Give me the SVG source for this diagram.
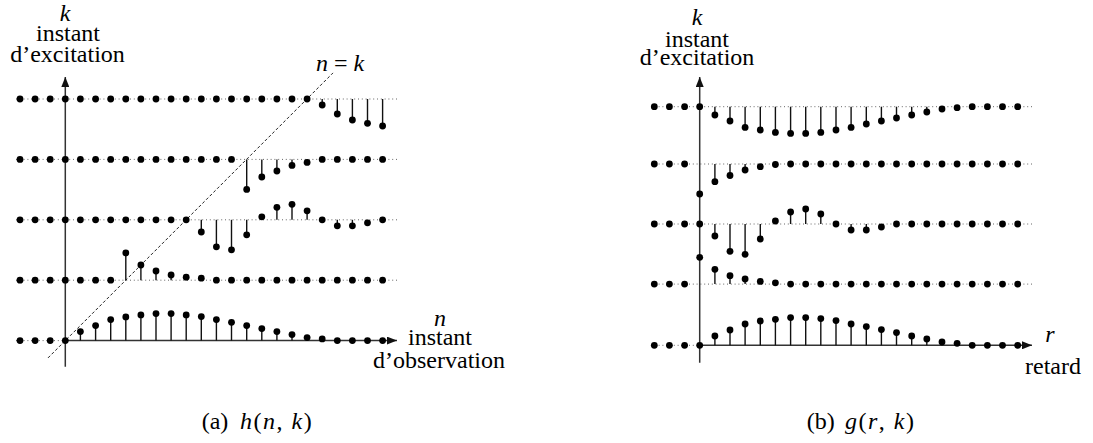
<svg xmlns="http://www.w3.org/2000/svg" width="1093" height="443" viewBox="0 0 1093 443">
<style>
.bg{fill:#fff}
.base{stroke:#666;stroke-width:1;stroke-dasharray:1 2.8;fill:none}
.axis{stroke:#333;stroke-width:1.5;fill:none}
.stem{stroke:#111;stroke-width:1.4}
.diag{stroke:#222;stroke-width:1;stroke-dasharray:3 2.2;fill:none}
.c{text-anchor:middle}
</style>
<defs>
<marker id="arr" viewBox="0 0 10 8" refX="10" refY="4" markerWidth="10" markerHeight="8" markerUnits="userSpaceOnUse" orient="auto">
<path d="M0,0 L10,4 L0,8 Z" fill="#111"/>
</marker>
<circle id="p" r="3.4" fill="#000"/>
</defs>
<rect class="bg" x="0" y="0" width="1093" height="443"/>

<g id="left-panel">
<g id="left-baselines">
<line class="base" x1="16" y1="99" x2="398" y2="99"/>
<line class="base" x1="16" y1="159.4" x2="398" y2="159.4"/>
<line class="base" x1="16" y1="219.8" x2="398" y2="219.8"/>
<line class="base" x1="16" y1="280.2" x2="398" y2="280.2"/>
<line class="base" x1="16" y1="340.6" x2="66" y2="340.6"/>
</g>
<g id="left-axes">
<line class="axis" x1="65.3" y1="366.7" x2="65.3" y2="77" marker-end="url(#arr)"/>
<line class="axis" x1="65.3" y1="340.6" x2="397" y2="340.6" marker-end="url(#arr)"/>
<line class="diag" x1="48" y1="357.9" x2="333" y2="72.9"/>
</g>
<g id="left-stems">
<line class="stem" x1="322.2" y1="99" x2="322.2" y2="105"/>
<line class="stem" x1="337.3" y1="99" x2="337.3" y2="114"/>
<line class="stem" x1="352.4" y1="99" x2="352.4" y2="120"/>
<line class="stem" x1="367.5" y1="99" x2="367.5" y2="123.3"/>
<line class="stem" x1="382.6" y1="99" x2="382.6" y2="126"/>
<line class="stem" x1="246.7" y1="159.4" x2="246.7" y2="189.4"/>
<line class="stem" x1="261.8" y1="159.4" x2="261.8" y2="177"/>
<line class="stem" x1="276.9" y1="159.4" x2="276.9" y2="171"/>
<line class="stem" x1="292.0" y1="159.4" x2="292.0" y2="165.4"/>
<line class="stem" x1="307.1" y1="159.4" x2="307.1" y2="162.4"/>
<line class="stem" x1="201.3" y1="219.8" x2="201.3" y2="232"/>
<line class="stem" x1="216.4" y1="219.8" x2="216.4" y2="246.8"/>
<line class="stem" x1="231.5" y1="219.8" x2="231.5" y2="249.8"/>
<line class="stem" x1="246.7" y1="219.8" x2="246.7" y2="234.8"/>
<line class="stem" x1="261.8" y1="219.8" x2="261.8" y2="216.8"/>
<line class="stem" x1="276.9" y1="219.8" x2="276.9" y2="207.3"/>
<line class="stem" x1="292.0" y1="219.8" x2="292.0" y2="204.3"/>
<line class="stem" x1="307.1" y1="219.8" x2="307.1" y2="210.8"/>
<line class="stem" x1="337.3" y1="219.8" x2="337.3" y2="225.8"/>
<line class="stem" x1="352.4" y1="219.8" x2="352.4" y2="225.8"/>
<line class="stem" x1="367.5" y1="219.8" x2="367.5" y2="222.8"/>
<line class="stem" x1="125.8" y1="280.2" x2="125.8" y2="253"/>
<line class="stem" x1="140.9" y1="280.2" x2="140.9" y2="265"/>
<line class="stem" x1="156.0" y1="280.2" x2="156.0" y2="271"/>
<line class="stem" x1="171.1" y1="280.2" x2="171.1" y2="275"/>
<line class="stem" x1="186.2" y1="280.2" x2="186.2" y2="277.2"/>
<line class="stem" x1="201.3" y1="280.2" x2="201.3" y2="278.2"/>
<line class="stem" x1="80.4" y1="340.6" x2="80.4" y2="331.6"/>
<line class="stem" x1="95.6" y1="340.6" x2="95.6" y2="325.6"/>
<line class="stem" x1="110.7" y1="340.6" x2="110.7" y2="319.6"/>
<line class="stem" x1="125.8" y1="340.6" x2="125.8" y2="316.9"/>
<line class="stem" x1="140.9" y1="340.6" x2="140.9" y2="314.9"/>
<line class="stem" x1="156.0" y1="340.6" x2="156.0" y2="313.6"/>
<line class="stem" x1="171.1" y1="340.6" x2="171.1" y2="313.6"/>
<line class="stem" x1="186.2" y1="340.6" x2="186.2" y2="314.9"/>
<line class="stem" x1="201.3" y1="340.6" x2="201.3" y2="316.6"/>
<line class="stem" x1="216.4" y1="340.6" x2="216.4" y2="319.6"/>
<line class="stem" x1="231.5" y1="340.6" x2="231.5" y2="322.3"/>
<line class="stem" x1="246.7" y1="340.6" x2="246.7" y2="325.6"/>
<line class="stem" x1="261.8" y1="340.6" x2="261.8" y2="328.6"/>
<line class="stem" x1="276.9" y1="340.6" x2="276.9" y2="331.6"/>
<line class="stem" x1="292.0" y1="340.6" x2="292.0" y2="334.6"/>
<line class="stem" x1="307.1" y1="340.6" x2="307.1" y2="337.6"/>
<line class="stem" x1="322.2" y1="340.6" x2="322.2" y2="338.9"/>
</g>
<g id="left-dots">
<use href="#p" x="20.0" y="99"/><use href="#p" x="35.1" y="99"/><use href="#p" x="50.2" y="99"/><use href="#p" x="65.3" y="99"/><use href="#p" x="80.4" y="99"/><use href="#p" x="95.6" y="99"/><use href="#p" x="110.7" y="99"/><use href="#p" x="125.8" y="99"/><use href="#p" x="140.9" y="99"/><use href="#p" x="156.0" y="99"/><use href="#p" x="171.1" y="99"/><use href="#p" x="186.2" y="99"/><use href="#p" x="201.3" y="99"/><use href="#p" x="216.4" y="99"/><use href="#p" x="231.5" y="99"/><use href="#p" x="246.7" y="99"/><use href="#p" x="261.8" y="99"/><use href="#p" x="276.9" y="99"/><use href="#p" x="292.0" y="99"/><use href="#p" x="307.1" y="99"/>
<use href="#p" x="322.2" y="105"/><use href="#p" x="337.3" y="114"/><use href="#p" x="352.4" y="120"/><use href="#p" x="367.5" y="123.3"/><use href="#p" x="382.6" y="126"/>
<use href="#p" x="20.0" y="159.4"/><use href="#p" x="35.1" y="159.4"/><use href="#p" x="50.2" y="159.4"/><use href="#p" x="65.3" y="159.4"/><use href="#p" x="80.4" y="159.4"/><use href="#p" x="95.6" y="159.4"/><use href="#p" x="110.7" y="159.4"/><use href="#p" x="125.8" y="159.4"/><use href="#p" x="140.9" y="159.4"/><use href="#p" x="156.0" y="159.4"/><use href="#p" x="171.1" y="159.4"/><use href="#p" x="186.2" y="159.4"/><use href="#p" x="201.3" y="159.4"/><use href="#p" x="216.4" y="159.4"/><use href="#p" x="231.5" y="159.4"/>
<use href="#p" x="246.7" y="189.4"/><use href="#p" x="261.8" y="177"/><use href="#p" x="276.9" y="171"/><use href="#p" x="292.0" y="165.4"/><use href="#p" x="307.1" y="162.4"/>
<use href="#p" x="322.2" y="159.4"/><use href="#p" x="337.3" y="159.4"/><use href="#p" x="352.4" y="159.4"/><use href="#p" x="367.5" y="159.4"/><use href="#p" x="382.6" y="159.4"/>
<use href="#p" x="20.0" y="219.8"/><use href="#p" x="35.1" y="219.8"/><use href="#p" x="50.2" y="219.8"/><use href="#p" x="65.3" y="219.8"/><use href="#p" x="80.4" y="219.8"/><use href="#p" x="95.6" y="219.8"/><use href="#p" x="110.7" y="219.8"/><use href="#p" x="125.8" y="219.8"/><use href="#p" x="140.9" y="219.8"/><use href="#p" x="156.0" y="219.8"/><use href="#p" x="171.1" y="219.8"/><use href="#p" x="186.2" y="219.8"/>
<use href="#p" x="201.3" y="232"/><use href="#p" x="216.4" y="246.8"/><use href="#p" x="231.5" y="249.8"/><use href="#p" x="246.7" y="234.8"/><use href="#p" x="261.8" y="216.8"/><use href="#p" x="276.9" y="207.3"/><use href="#p" x="292.0" y="204.3"/><use href="#p" x="307.1" y="210.8"/><use href="#p" x="322.2" y="219.8"/><use href="#p" x="337.3" y="225.8"/><use href="#p" x="352.4" y="225.8"/><use href="#p" x="367.5" y="222.8"/><use href="#p" x="382.6" y="219.8"/>
<use href="#p" x="20.0" y="280.2"/><use href="#p" x="35.1" y="280.2"/><use href="#p" x="50.2" y="280.2"/><use href="#p" x="65.3" y="280.2"/><use href="#p" x="80.4" y="280.2"/><use href="#p" x="95.6" y="280.2"/><use href="#p" x="110.7" y="280.2"/>
<use href="#p" x="125.8" y="253"/><use href="#p" x="140.9" y="265"/><use href="#p" x="156.0" y="271"/><use href="#p" x="171.1" y="275"/><use href="#p" x="186.2" y="277.2"/><use href="#p" x="201.3" y="278.2"/>
<use href="#p" x="216.4" y="280.2"/><use href="#p" x="231.5" y="280.2"/><use href="#p" x="246.7" y="280.2"/><use href="#p" x="261.8" y="280.2"/><use href="#p" x="276.9" y="280.2"/><use href="#p" x="292.0" y="280.2"/><use href="#p" x="307.1" y="280.2"/><use href="#p" x="322.2" y="280.2"/><use href="#p" x="337.3" y="280.2"/><use href="#p" x="352.4" y="280.2"/><use href="#p" x="367.5" y="280.2"/><use href="#p" x="382.6" y="280.2"/>
<use href="#p" x="20.0" y="340.6"/><use href="#p" x="35.1" y="340.6"/><use href="#p" x="50.2" y="340.6"/><use href="#p" x="65.3" y="340.6"/>
<use href="#p" x="80.4" y="331.6"/><use href="#p" x="95.6" y="325.6"/><use href="#p" x="110.7" y="319.6"/><use href="#p" x="125.8" y="316.9"/><use href="#p" x="140.9" y="314.9"/><use href="#p" x="156.0" y="313.6"/><use href="#p" x="171.1" y="313.6"/><use href="#p" x="186.2" y="314.9"/><use href="#p" x="201.3" y="316.6"/><use href="#p" x="216.4" y="319.6"/><use href="#p" x="231.5" y="322.3"/><use href="#p" x="246.7" y="325.6"/><use href="#p" x="261.8" y="328.6"/><use href="#p" x="276.9" y="331.6"/><use href="#p" x="292.0" y="334.6"/><use href="#p" x="307.1" y="337.6"/><use href="#p" x="322.2" y="338.9"/>
<use href="#p" x="337.3" y="340.6"/><use href="#p" x="352.4" y="340.6"/><use href="#p" x="367.5" y="340.6"/><use href="#p" x="382.6" y="340.6"/>
</g>
<g id="left-labels">
<text class="c" style="font-family:'Liberation Serif',serif;font-size:24px;font-style:italic" x="65" y="21">k</text>
<text class="c" style="font-family:'Liberation Serif',serif;font-size:24px" x="68" y="41">instant</text>
<text class="c" style="font-family:'Liberation Serif',serif;font-size:24px" x="67.5" y="62">d’excitation</text>
<text class="c" style="font-family:'Liberation Serif',serif;font-size:24px" x="340" y="71"><tspan style="font-style:italic">n</tspan> = <tspan style="font-style:italic">k</tspan></text>
<text class="c" style="font-family:'Liberation Serif',serif;font-size:24px;font-style:italic" x="440" y="326">n</text>
<text class="c" style="font-family:'Liberation Serif',serif;font-size:24px" x="440" y="345">instant</text>
<text class="c" style="font-family:'Liberation Serif',serif;font-size:24px" x="439" y="368">d’observation</text>
<text style="font-family:'Liberation Serif',serif;font-size:24px" x="201.7" y="429">(a)</text>
<text style="font-family:'Liberation Serif',serif;font-size:24px;letter-spacing:1.5px" x="240" y="429"><tspan style="font-style:italic">h</tspan>(<tspan style="font-style:italic">n</tspan>, <tspan style="font-style:italic">k</tspan>)</text>
</g>
</g>

<g id="right-panel">
<g id="right-baselines">
<line class="base" x1="651" y1="106.7" x2="1032" y2="106.7"/>
<line class="base" x1="651" y1="164" x2="1032" y2="164"/>
<line class="base" x1="651" y1="224" x2="1032" y2="224"/>
<line class="base" x1="651" y1="284.1" x2="1032" y2="284.1"/>
<line class="base" x1="651" y1="345.3" x2="700" y2="345.3"/>
</g>
<g id="right-axes">
<line class="axis" x1="699.7" y1="362.7" x2="699.7" y2="77" marker-end="url(#arr)"/>
<line class="axis" x1="699.7" y1="345.3" x2="1032" y2="345.3" marker-end="url(#arr)"/>
</g>
<g id="right-stems">
<line class="stem" x1="714.9" y1="106.7" x2="714.9" y2="115"/>
<line class="stem" x1="730.0" y1="106.7" x2="730.0" y2="121"/>
<line class="stem" x1="745.1" y1="106.7" x2="745.1" y2="127.4"/>
<line class="stem" x1="760.3" y1="106.7" x2="760.3" y2="130"/>
<line class="stem" x1="775.4" y1="106.7" x2="775.4" y2="132.4"/>
<line class="stem" x1="790.6" y1="106.7" x2="790.6" y2="133.4"/>
<line class="stem" x1="805.7" y1="106.7" x2="805.7" y2="133.4"/>
<line class="stem" x1="820.8" y1="106.7" x2="820.8" y2="132.4"/>
<line class="stem" x1="836.0" y1="106.7" x2="836.0" y2="130"/>
<line class="stem" x1="851.1" y1="106.7" x2="851.1" y2="127.4"/>
<line class="stem" x1="866.3" y1="106.7" x2="866.3" y2="124"/>
<line class="stem" x1="881.4" y1="106.7" x2="881.4" y2="121"/>
<line class="stem" x1="896.5" y1="106.7" x2="896.5" y2="118"/>
<line class="stem" x1="911.7" y1="106.7" x2="911.7" y2="115"/>
<line class="stem" x1="926.8" y1="106.7" x2="926.8" y2="112"/>
<line class="stem" x1="942.0" y1="106.7" x2="942.0" y2="109"/>
<line class="stem" x1="714.9" y1="164" x2="714.9" y2="181.7"/>
<line class="stem" x1="730.0" y1="164" x2="730.0" y2="175.5"/>
<line class="stem" x1="745.1" y1="164" x2="745.1" y2="170"/>
<line class="stem" x1="760.3" y1="164" x2="760.3" y2="166.7"/>
<line class="stem" x1="714.9" y1="224" x2="714.9" y2="236"/>
<line class="stem" x1="730.0" y1="224" x2="730.0" y2="251.3"/>
<line class="stem" x1="745.1" y1="224" x2="745.1" y2="254.3"/>
<line class="stem" x1="760.3" y1="224" x2="760.3" y2="239"/>
<line class="stem" x1="775.4" y1="224" x2="775.4" y2="221"/>
<line class="stem" x1="790.6" y1="224" x2="790.6" y2="212"/>
<line class="stem" x1="805.7" y1="224" x2="805.7" y2="209"/>
<line class="stem" x1="820.8" y1="224" x2="820.8" y2="214"/>
<line class="stem" x1="851.1" y1="224" x2="851.1" y2="230"/>
<line class="stem" x1="866.3" y1="224" x2="866.3" y2="230"/>
<line class="stem" x1="881.4" y1="224" x2="881.4" y2="227"/>
<line class="stem" x1="714.9" y1="284.1" x2="714.9" y2="269.3"/>
<line class="stem" x1="730.0" y1="284.1" x2="730.0" y2="275.7"/>
<line class="stem" x1="745.1" y1="284.1" x2="745.1" y2="279"/>
<line class="stem" x1="760.3" y1="284.1" x2="760.3" y2="281.4"/>
<line class="stem" x1="714.9" y1="345.3" x2="714.9" y2="336"/>
<line class="stem" x1="730.0" y1="345.3" x2="730.0" y2="330"/>
<line class="stem" x1="745.1" y1="345.3" x2="745.1" y2="324"/>
<line class="stem" x1="760.3" y1="345.3" x2="760.3" y2="321"/>
<line class="stem" x1="775.4" y1="345.3" x2="775.4" y2="319.3"/>
<line class="stem" x1="790.6" y1="345.3" x2="790.6" y2="317.6"/>
<line class="stem" x1="805.7" y1="345.3" x2="805.7" y2="317.6"/>
<line class="stem" x1="820.8" y1="345.3" x2="820.8" y2="318.6"/>
<line class="stem" x1="836.0" y1="345.3" x2="836.0" y2="320.6"/>
<line class="stem" x1="851.1" y1="345.3" x2="851.1" y2="324"/>
<line class="stem" x1="866.3" y1="345.3" x2="866.3" y2="326.6"/>
<line class="stem" x1="881.4" y1="345.3" x2="881.4" y2="329.6"/>
<line class="stem" x1="896.5" y1="345.3" x2="896.5" y2="332.6"/>
<line class="stem" x1="911.7" y1="345.3" x2="911.7" y2="336"/>
<line class="stem" x1="926.8" y1="345.3" x2="926.8" y2="339"/>
<line class="stem" x1="942.0" y1="345.3" x2="942.0" y2="342"/>
<line class="stem" x1="957.1" y1="345.3" x2="957.1" y2="343.3"/>
</g>
<g id="right-dots">
<use href="#p" x="654.3" y="106.7"/><use href="#p" x="669.4" y="106.7"/><use href="#p" x="684.6" y="106.7"/><use href="#p" x="699.7" y="106.7"/>
<use href="#p" x="714.9" y="115"/><use href="#p" x="730.0" y="121"/><use href="#p" x="745.1" y="127.4"/><use href="#p" x="760.3" y="130"/><use href="#p" x="775.4" y="132.4"/><use href="#p" x="790.6" y="133.4"/><use href="#p" x="805.7" y="133.4"/><use href="#p" x="820.8" y="132.4"/><use href="#p" x="836.0" y="130"/><use href="#p" x="851.1" y="127.4"/><use href="#p" x="866.3" y="124"/><use href="#p" x="881.4" y="121"/><use href="#p" x="896.5" y="118"/><use href="#p" x="911.7" y="115"/><use href="#p" x="926.8" y="112"/><use href="#p" x="942.0" y="109"/><use href="#p" x="957.1" y="107.7"/>
<use href="#p" x="972.2" y="106.7"/><use href="#p" x="987.4" y="106.7"/><use href="#p" x="1002.5" y="106.7"/><use href="#p" x="1017.7" y="106.7"/>
<use href="#p" x="654.3" y="164"/><use href="#p" x="669.4" y="164"/><use href="#p" x="684.6" y="164"/>
<use href="#p" x="699.7" y="194"/><use href="#p" x="714.9" y="181.7"/><use href="#p" x="730.0" y="175.5"/><use href="#p" x="745.1" y="170"/><use href="#p" x="760.3" y="166.7"/><use href="#p" x="775.4" y="164.5"/>
<use href="#p" x="790.6" y="164"/><use href="#p" x="805.7" y="164"/><use href="#p" x="820.8" y="164"/><use href="#p" x="836.0" y="164"/><use href="#p" x="851.1" y="164"/><use href="#p" x="866.3" y="164"/><use href="#p" x="881.4" y="164"/><use href="#p" x="896.5" y="164"/><use href="#p" x="911.7" y="164"/><use href="#p" x="926.8" y="164"/><use href="#p" x="942.0" y="164"/><use href="#p" x="957.1" y="164"/><use href="#p" x="972.2" y="164"/><use href="#p" x="987.4" y="164"/><use href="#p" x="1002.5" y="164"/><use href="#p" x="1017.7" y="164"/>
<use href="#p" x="654.3" y="224"/><use href="#p" x="669.4" y="224"/><use href="#p" x="684.6" y="224"/><use href="#p" x="699.7" y="224"/>
<use href="#p" x="714.9" y="236"/><use href="#p" x="730.0" y="251.3"/><use href="#p" x="745.1" y="254.3"/><use href="#p" x="760.3" y="239"/><use href="#p" x="775.4" y="221"/><use href="#p" x="790.6" y="212"/><use href="#p" x="805.7" y="209"/><use href="#p" x="820.8" y="214"/><use href="#p" x="836.0" y="224"/><use href="#p" x="851.1" y="230"/><use href="#p" x="866.3" y="230"/><use href="#p" x="881.4" y="227"/>
<use href="#p" x="896.5" y="224"/><use href="#p" x="911.7" y="224"/><use href="#p" x="926.8" y="224"/><use href="#p" x="942.0" y="224"/><use href="#p" x="957.1" y="224"/><use href="#p" x="972.2" y="224"/><use href="#p" x="987.4" y="224"/><use href="#p" x="1002.5" y="224"/><use href="#p" x="1017.7" y="224"/>
<use href="#p" x="654.3" y="284.1"/><use href="#p" x="669.4" y="284.1"/><use href="#p" x="684.6" y="284.1"/>
<use href="#p" x="699.7" y="257.3"/><use href="#p" x="714.9" y="269.3"/><use href="#p" x="730.0" y="275.7"/><use href="#p" x="745.1" y="279"/><use href="#p" x="760.3" y="281.4"/><use href="#p" x="775.4" y="282.8"/>
<use href="#p" x="790.6" y="284.1"/><use href="#p" x="805.7" y="284.1"/><use href="#p" x="820.8" y="284.1"/><use href="#p" x="836.0" y="284.1"/><use href="#p" x="851.1" y="284.1"/><use href="#p" x="866.3" y="284.1"/><use href="#p" x="881.4" y="284.1"/><use href="#p" x="896.5" y="284.1"/><use href="#p" x="911.7" y="284.1"/><use href="#p" x="926.8" y="284.1"/><use href="#p" x="942.0" y="284.1"/><use href="#p" x="957.1" y="284.1"/><use href="#p" x="972.2" y="284.1"/><use href="#p" x="987.4" y="284.1"/><use href="#p" x="1002.5" y="284.1"/><use href="#p" x="1017.7" y="284.1"/>
<use href="#p" x="654.3" y="345.3"/><use href="#p" x="669.4" y="345.3"/><use href="#p" x="684.6" y="345.3"/><use href="#p" x="699.7" y="345.3"/>
<use href="#p" x="714.9" y="336"/><use href="#p" x="730.0" y="330"/><use href="#p" x="745.1" y="324"/><use href="#p" x="760.3" y="321"/><use href="#p" x="775.4" y="319.3"/><use href="#p" x="790.6" y="317.6"/><use href="#p" x="805.7" y="317.6"/><use href="#p" x="820.8" y="318.6"/><use href="#p" x="836.0" y="320.6"/><use href="#p" x="851.1" y="324"/><use href="#p" x="866.3" y="326.6"/><use href="#p" x="881.4" y="329.6"/><use href="#p" x="896.5" y="332.6"/><use href="#p" x="911.7" y="336"/><use href="#p" x="926.8" y="339"/><use href="#p" x="942.0" y="342"/><use href="#p" x="957.1" y="343.3"/>
<use href="#p" x="972.2" y="345.3"/><use href="#p" x="987.4" y="345.3"/><use href="#p" x="1002.5" y="345.3"/><use href="#p" x="1017.7" y="345.3"/>
</g>
<g id="right-labels">
<text class="c" style="font-family:'Liberation Serif',serif;font-size:24px;font-style:italic" x="697" y="25">k</text>
<text class="c" style="font-family:'Liberation Serif',serif;font-size:24px" x="697" y="46.7">instant</text>
<text class="c" style="font-family:'Liberation Serif',serif;font-size:24px" x="697" y="65">d’excitation</text>
<text class="c" style="font-family:'Liberation Serif',serif;font-size:24px;font-style:italic" x="1050" y="342">r</text>
<text class="c" style="font-family:'Liberation Serif',serif;font-size:24px" x="1053" y="374">retard</text>
<text style="font-family:'Liberation Serif',serif;font-size:24px" x="806.7" y="429">(b)</text>
<text style="font-family:'Liberation Serif',serif;font-size:24px;letter-spacing:1.5px" x="845" y="429"><tspan style="font-style:italic">g</tspan>(<tspan style="font-style:italic">r</tspan>, <tspan style="font-style:italic">k</tspan>)</text>
</g>
</g>
</svg>
